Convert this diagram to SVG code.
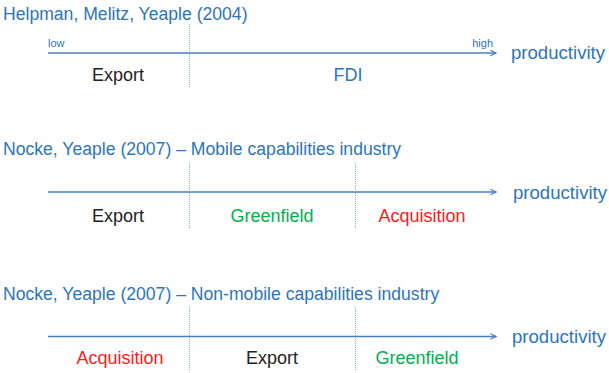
<svg xmlns="http://www.w3.org/2000/svg" width="609" height="373" viewBox="0 0 609 373">
<defs>
<style>
text{font-family:"Liberation Sans",Arial,sans-serif}
.title{font-size:17.6px;fill:#2E75B6}
.prod{font-size:18.6px;fill:#2E75B6}
.lbl{font-size:18px;text-anchor:middle}
.blk{fill:#222}
.blu{fill:#2E75B6}
.grn{fill:#00B050}
.red{fill:#FF1B1B}
.small{font-size:11px;fill:#2E75B6}
.axis{stroke:#4A7EC0;stroke-width:1.5;fill:none}
.div{stroke:#8FAADC;stroke-width:1;stroke-dasharray:1 1;fill:none}
</style>
<marker id="arr" viewBox="0 0 10 10" refX="9" refY="5" markerWidth="7" markerHeight="7" markerUnits="userSpaceOnUse" orient="auto">
<path d="M1,1 L9,5 L1,9" fill="none" stroke="#4A7EC0" stroke-width="1.6"/>
</marker>
</defs>
<g id="connectors">
<line class="axis" x1="48" y1="53" x2="496" y2="53" marker-end="url(#arr)"/>
<line class="axis" x1="48" y1="192" x2="496" y2="192" marker-end="url(#arr)"/>
<line class="axis" x1="48" y1="336.5" x2="496" y2="336.5" marker-end="url(#arr)"/>
<line class="div" x1="189.5" y1="24" x2="189.5" y2="88"/>
<line class="div" x1="189.5" y1="163" x2="189.5" y2="228"/>
<line class="div" x1="355.5" y1="163" x2="355.5" y2="228"/>
<line class="div" x1="189.5" y1="307" x2="189.5" y2="370"/>
<line class="div" x1="355.5" y1="307" x2="355.5" y2="370"/>
</g>
<g id="panel1">
<text class="title" x="3" y="20">Helpman, Melitz, Yeaple (2004)</text>
<text class="small" x="48" y="47">low</text>
<text class="small" x="493" y="47" text-anchor="end">high</text>
<text class="prod" x="511" y="59">productivity</text>
<text class="lbl blk" x="118" y="81">Export</text>
<text class="lbl blu" x="348" y="81">FDI</text>
</g>
<g id="panel2">
<text class="title" x="3" y="155">Nocke, Yeaple (2007) – Mobile capabilities industry</text>
<text class="prod" x="513" y="199">productivity</text>
<text class="lbl blk" x="118" y="222">Export</text>
<text class="lbl grn" x="272" y="222">Greenfield</text>
<text class="lbl red" x="422" y="222">Acquisition</text>
</g>
<g id="panel3">
<text class="title" x="3" y="300">Nocke, Yeaple (2007) – Non-mobile capabilities industry</text>
<text class="prod" x="512" y="343">productivity</text>
<text class="lbl red" x="120" y="364">Acquisition</text>
<text class="lbl blk" x="272" y="364">Export</text>
<text class="lbl grn" x="417" y="364">Greenfield</text>
</g>
</svg>
